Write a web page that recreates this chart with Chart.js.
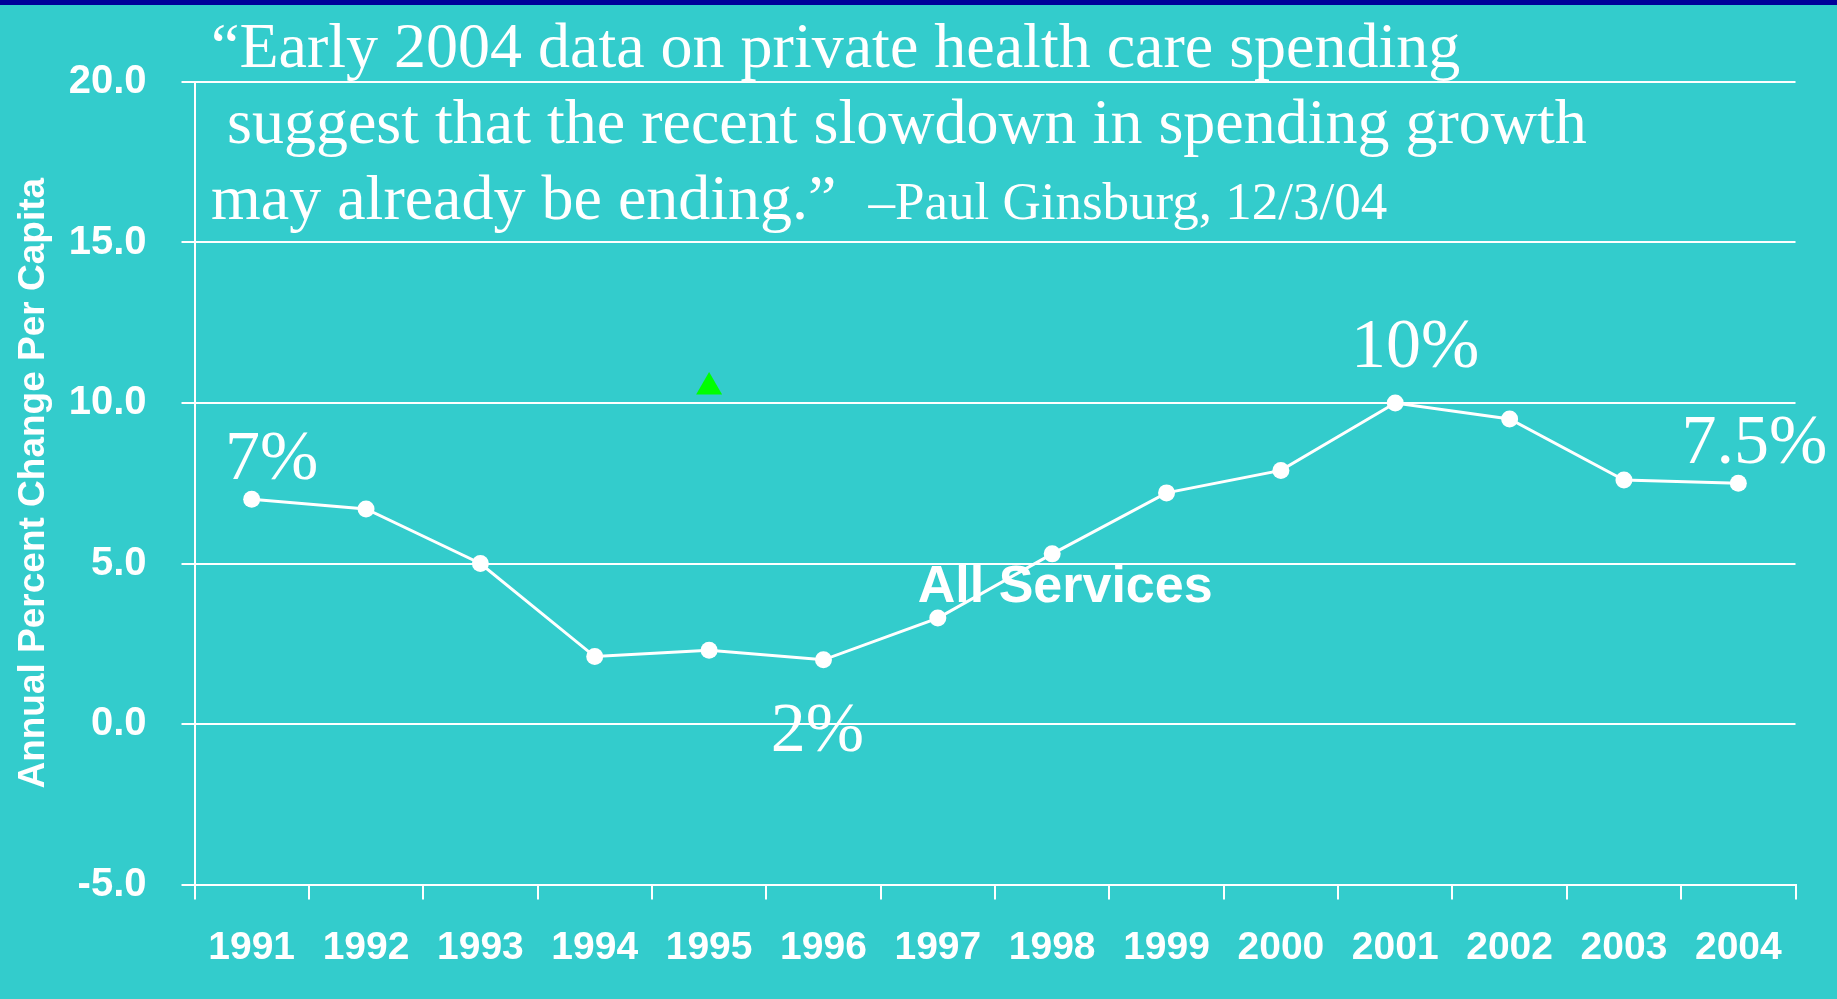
<!DOCTYPE html>
<html>
<head>
<meta charset="utf-8">
<script src="https://cdn.jsdelivr.net/npm/chart.js@4/dist/chart.umd.min.js"></script>
<style>
  html, body { margin: 0; padding: 0; background: #33cccc; }
  canvas { display: block; }
</style>
</head>
<body>
<canvas id="myChart" width="1837" height="999"></canvas>
<script>
// per capita spending growth, all services
var years = ['1991', '1992', '1993', '1994', '1995', '1996', '1997',
             '1998', '1999', '2000', '2001', '2002', '2003', '2004'];
var allServices = [7.0, 6.7, 5.0, 2.1, 2.3, 2.0, 3.3, 5.3, 7.2, 7.9, 10.0, 9.5, 7.6, 7.5];
var marker = [null, null, null, null, 10.5, null, null, null, null, null, null, null, null, null];
var labelledPoints = [0, 5, 10, 13];
var yMin = -5, yMax = 20, yStep = 5;

var seriesName = 'All Services';
var quoteLines = [
    '\u201cEarly 2004 data on private health care spending',
    ' suggest that the recent slowdown in spending growth',
    'may already be ending.\u201d'
];
var quoteSource = '\u2013Paul Ginsburg, 12/3/04';

var SANS = "'Liberation Sans', Arial, sans-serif";
var SERIF = "'Liberation Serif', 'Times New Roman', serif";

// teal slide background with the dark strip along the top
var background = {
    id: 'background',
    beforeDraw: function (chart) {
        var ctx = chart.ctx;
        ctx.save();
        ctx.fillStyle = '#33cccc';
        ctx.fillRect(0, 0, chart.width, chart.height);
        ctx.fillStyle = '#000099';
        ctx.fillRect(0, 0, chart.width, 5);
        ctx.restore();
    }
};

// quote, series name and the percent call-outs
var annotations = {
    id: 'annotations',
    afterDraw: function (chart) {
        var ctx = chart.ctx;
        var x = chart.scales.x, y = chart.scales.y;
        var pts = chart.getDatasetMeta(0).data;
        ctx.save();
        ctx.fillStyle = '#ffffff';
        ctx.textBaseline = 'alphabetic';

        ctx.textAlign = 'left';
        ctx.font = '64px ' + SERIF;
        quoteLines.forEach(function (line, i) {
            ctx.fillText(line, 211, 67 + i * 76);
        });
        var endX = 211 + ctx.measureText(quoteLines[2]).width;
        ctx.font = '53px ' + SERIF;
        ctx.fillText(quoteSource, endX + 32, 219);

        ctx.font = 'bold 52px ' + SANS;
        ctx.textAlign = 'center';
        ctx.fillText(seriesName, x.getPixelForValue(7) + 13, y.getPixelForValue(3.8));

        var offsets = { 0: [20, -20], 5: [-6, 91], 10: [20, -36], 13: [16, -20] };
        ctx.font = '70px ' + SERIF;
        labelledPoints.forEach(function (i) {
            var p = pts[i];
            var off = offsets[i];
            ctx.fillText(allServices[i] + '%', p.x + off[0], p.y + off[1]);
        });
        ctx.restore();
    }
};

var ctx = document.getElementById('myChart').getContext('2d');
var myChart = new Chart(ctx, {
    type: 'line',
    data: {
        labels: years,
        datasets: [
            {
                label: seriesName,
                data: allServices,
                borderColor: '#ffffff',
                borderWidth: 3,
                tension: 0,
                pointRadius: 8.5,
                pointBorderWidth: 0,
                pointBackgroundColor: '#ffffff'
            },
            {
                label: 'marker',
                data: marker,
                showLine: false,
                pointStyle: 'triangle',
                pointRadius: 15,
                pointBorderWidth: 0,
                pointBackgroundColor: '#00ff00'
            }
        ]
    },
    options: {
        responsive: false,
        animation: false,
        devicePixelRatio: 1,
        layout: { padding: { top: 82, right: 41.5, left: 0, bottom: 0 } },
        plugins: {
            legend: { display: false },
            tooltip: { enabled: false }
        },
        scales: {
            x: {
                offset: true,
                afterFit: function (scale) { scale.height = 114.5; },
                grid: {
                    offset: true,
                    drawOnChartArea: false,
                    drawTicks: true,
                    tickLength: 15,
                    color: '#ffffff',
                    lineWidth: 2
                },
                border: { display: true, color: '#ffffff', width: 2 },
                ticks: {
                    color: '#ffffff',
                    font: { family: SANS, size: 39, weight: 'bold' },
                    padding: 25,
                    maxRotation: 0,
                    autoSkip: false
                }
            },
            y: {
                min: yMin,
                max: yMax,
                afterFit: function (scale) { scale.width = 194.5; },
                grid: {
                    color: '#ffffff',
                    lineWidth: 2,
                    tickLength: 13
                },
                border: { display: true, color: '#ffffff', width: 2 },
                ticks: {
                    stepSize: yStep,
                    color: '#ffffff',
                    padding: 35,
                    font: { family: SANS, size: 40, weight: 'bold' },
                    callback: function (v) { return v.toFixed(1); }
                },
                title: {
                    display: true,
                    text: 'Annual Percent Change Per Capita',
                    color: '#ffffff',
                    font: { family: SANS, size: 37, weight: 'bold' },
                    padding: { top: 12, bottom: 0 }
                }
            }
        }
    },
    plugins: [background, annotations]
});
</script>
</body>
</html>
